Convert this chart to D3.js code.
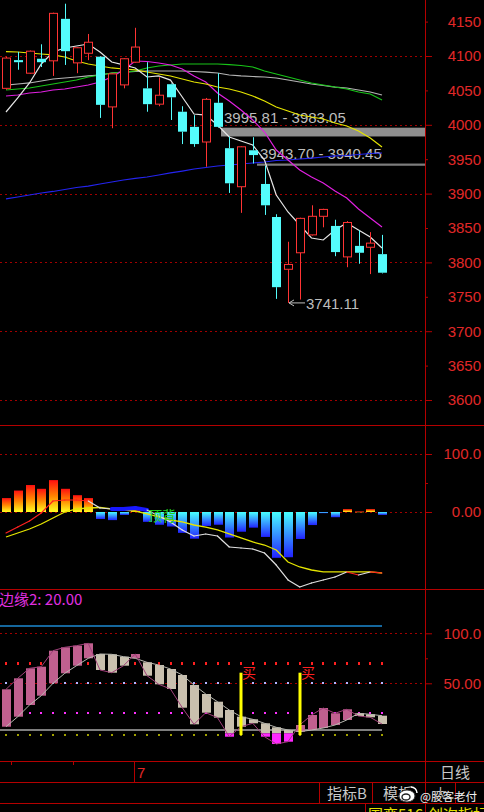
<!DOCTYPE html>
<html><head><meta charset="utf-8">
<script src="https://cdn.jsdelivr.net/npm/d3@7"></script>
<style>
html,body{margin:0;padding:0;background:#000;overflow:hidden}
svg{display:block}
</style></head><body>
<svg id="c" width="484" height="812"></svg>
<script>
// ---------- DATA ----------
const openP  = [4053,4094,4075,4096,4093,4154,4090,4104,4099,4026,4058,4091,4053,4030,4059,4019,3997,3975,4032,3966,3910,3963,3914,3866,3790,3814,3840,3867,3853,3808,3824,3822,3812];
const closeP = [4097,4091,4107,4091,4162,4107,4112,4120,4029,4074,4096,4113,4030,4043,4040,3990,3972,4037,3997,3915,3968,3956,3883,3764,3797,3864,3867,3877,3815,3858,3814,3828,3785];
const highP  = [4099,4106,4108,4117,4163,4176,4113,4132,4100,4075,4097,4141,4091,4069,4060,4027,4014,4039,4075,3983.05,3969,3982,3940.45,3870,3830,3865,3883,3878,3862,3860,3847,3844,3840];
const lowP   = [4051,4080,4074,4084,4071,4087,4075,4094,4010,3995,4053,4090,4019,4027,4007,3972,3968,3939,3995.81,3901,3872,3943.70,3869,3747,3741.11,3746,3839,3851,3809,3793,3798,3783,3784];

const ma5   = [4018.6,4039,4060.8,4088.4,4105.8,4111.6,4114.5,4117.4,4105.8,4091.3,4087,4082.6,4069.5,4071,4065,4040.4,4015.7,4014.2,3999.7,3982.3,3976.4,3970.6,3948.8,3898,3873.3,3854.4,3835.5,3832.6,3847.1,3857.3,3847.1,3837,3821];
const ma10  = [4106.5,4105.8,4104.4,4102.9,4101.5,4098.5,4092.7,4088.4,4085.5,4082.6,4081.1,4079.7,4076.7,4073.8,4070.9,4066.6,4062.2,4059.3,4054.9,4052,4047.7,4041.9,4034.6,4025.9,4020.1,4014.2,4011.3,4008.4,4002.6,3998.3,3991,3980.8,3967.7];
const ma20  = [4041.9,4043.3,4046.2,4047.7,4050.6,4052,4054.9,4057.8,4062.2,4069.5,4079.7,4092.7,4092,4089.8,4086.9,4081.1,4070.9,4062.2,4046.2,4034.6,4021.5,4007,3989.5,3963.4,3948.8,3934.3,3924.1,3915.4,3903.8,3893.6,3877.6,3864.5,3851.5];
const ma30  = [4050.6,4052,4053.5,4056.4,4059.3,4062.2,4065.1,4069.5,4072.4,4075.3,4076.7,4078.2,4082.6,4085.5,4086.9,4088.4,4088.4,4088.4,4088.4,4087.6,4086.2,4084,4078.2,4073.8,4069.5,4065.1,4060.8,4057.8,4054.9,4052,4047.7,4044.8,4036];
const ma60  = [4057.8,4059.3,4060.8,4063.7,4066.6,4068,4069.5,4071,4072.4,4075.3,4076.7,4077.5,4078.2,4078.2,4078.2,4078.2,4077.5,4076.7,4075.3,4072.4,4071,4070.2,4069.5,4068,4065.1,4062.2,4059.3,4057.1,4054.9,4053.5,4050.6,4047.7,4043.3];
const ma250 = [3892.2,3895.1,3898,3900.9,3903.1,3906,3908.9,3911,3914,3916.9,3919.8,3922,3924.1,3927,3930,3932.8,3935.8,3937.9,3940.1,3941.6,3943,3944.5,3945.9,3948.1,3948.8,3950.3,3951.7,3953.2,3954.7,3955.4,3956.8,3958.3,3959];
const priceTicks = [3600,3650,3700,3750,3800,3850,3900,3950,4000,4050,4100,4150];

const macdHist = [24,37,46.5,40,55,40,29,24,-12,-14,-5,3,-17,-22,-25,-36,-46,-24,-22,-44,-34,-27,-43,-79,-78,-46.5,-22.5,-2,-9,5,1,5,-5];
const macdDif  = [-36.2,-25.9,-15.5,-1.7,19,20.7,20.7,19,6.9,5.2,5.2,6.9,3.4,-6.9,-17.2,-31,-41.4,-37.9,-41.4,-60.3,-62.1,-63.8,-70.7,-91.4,-117.2,-129.3,-122.4,-117.2,-112.1,-103.4,-108.6,-103.4,-105.2];
const macdDea  = [-43.1,-36.2,-29.3,-20.7,-10.3,0,5.2,6.9,7.8,5.2,3.4,1.7,-3.4,-8.6,-13.8,-17.2,-22.4,-25.9,-31,-37.9,-44.8,-51.7,-56.9,-65.5,-86.2,-94.8,-100,-103.4,-103.4,-103.4,-103.4,-103.4,-105.2];
const difState = ['up','up','up','up','up','up','up','down','down','flat','flat','flat','down','down','down','down','down','down','down','down','down','down','down','down','down','down','down','down','down','up','down','up'];
const macdTicks = [0,50,100];
const macdLabels = {0:'0.00',100:'100.0'};
const macdNote = {idx:12, text:'顶背'};

const kLine = [44,55,65,66.6,82.6,86,87.6,90,63.3,60.6,67.6,79.3,57.6,49,44.3,25.6,9,20.6,15.6,-3.4,6.6,10,-3.4,-10.7,-8.4,8.3,18.3,25.3,20,24,17.3,16,9.3];
const dLine = [6.6,16.6,28.3,37.6,50,60,67.6,75,79.3,79,76.6,75,71,68.3,64.3,58.3,48.3,39.3,31.6,23.3,16.6,14,10,6,3.3,1.6,3.3,5.3,8.3,13.3,20,19,17.6];
const buyIdx = [20,25];
const buyRange = [60.6,-1.7];
const kdTicks = [50,75,100];
const kdLabels = {50:'50.00',100:'100.0'};
const kdLevels = [{v:70,c:'#ff2020'},{v:50,c:'#b4b4ff'},{v:20,c:'#ff30ff'},{v:-2,c:'#a0a000'}];
const kdBlue = 107.3, kdGray = 3.3;
const edgeLabel = '边缘2: 20.00';

// ---------- SETUP ----------
const W=484,H=812,AX=425;
const svg=d3.select('#c');
svg.append('rect').attr('width',W).attr('height',H).attr('fill','#000');
const defs=svg.append('defs');
const gp=defs.append('linearGradient').attr('id','gpos').attr('x1',0).attr('y1',0).attr('x2',0).attr('y2',1);
gp.append('stop').attr('offset','0%').attr('stop-color','#ff1010');
gp.append('stop').attr('offset','50%').attr('stop-color','#ff8400');
gp.append('stop').attr('offset','100%').attr('stop-color','#ffff20');
const gn=defs.append('linearGradient').attr('id','gneg').attr('x1',0).attr('y1',0).attr('x2',0).attr('y2',1);
gn.append('stop').attr('offset','0%').attr('stop-color','#48ffff');
gn.append('stop').attr('offset','100%').attr('stop-color','#2222ff');
defs.append('clipPath').attr('id','cp1').append('rect').attr('x',0).attr('y',0).attr('width',AX).attr('height',425);
defs.append('clipPath').attr('id','cp2').append('rect').attr('x',0).attr('y',426).attr('width',AX).attr('height',163);
defs.append('clipPath').attr('id','cp3').append('rect').attr('x',0).attr('y',590).attr('width',AX).attr('height',171);

const NUMF='"Liberation Sans", Arial, sans-serif';
const CJKF='"Noto Sans CJK SC", "Liberation Sans", sans-serif';
const RED='#e02828', LINE='#b40000', GRID='#a00000';

const x=d3.scaleLinear().domain([0,32]).range([6,382]);
const cx=i=>Math.round(x(i));
const yP=d3.scaleLinear().domain([3600,4100]).range([400,56]);
const yM=d3.scaleLinear().domain([0,100]).range([512,454]);
const yK=d3.scaleLinear().domain([0,100]).range([733.3,633.3]);
const idx=d3.range(openP.length);

function dotted(g,y,x1,x2){
  g.append('line').attr('x1',x1).attr('x2',x2).attr('y1',Math.round(y)+0.5).attr('y2',Math.round(y)+0.5)
   .attr('stroke',GRID).attr('stroke-width',1).attr('stroke-dasharray','2,3');
}

// ---------- PRICE PANEL ----------
const g1=svg.append('g').attr('clip-path','url(#cp1)');
[3600,3700,3800,3900,4000,4100].forEach(v=>dotted(g1,yP(v),0,AX));

const bands=[{a:18,b:19,lo:lowP[18],hi:highP[19],ty:-5},{a:21,b:22,lo:lowP[21],hi:highP[22],ty:-5}];
bands.forEach((bd,k)=>{
  const x0=cx(bd.a)+ (k===0?3:4);
  g1.append('rect').attr('x',x0).attr('y',yP(bd.lo)).attr('width',AX-x0).attr('height',Math.max(2,yP(bd.hi)-yP(bd.lo)))
    .attr('fill',k===0?'#8e8e8e':'#7c7c7c');
  g1.append('text').attr('x',x0+3).attr('y',yP(bd.lo)+bd.ty).attr('fill','#bdbdbd')
    .style('font',`15px ${NUMF}`).text(`${bd.lo.toFixed(2)} - ${bd.hi.toFixed(2)}`);
});

const lineP=d3.line().x((d,i)=>x(i)).y(d=>yP(d));
[[ma60,'#b4b4b4'],[ma30,'#18c418'],[ma250,'#2424f0'],[ma20,'#e020e0'],[ma10,'#e4e400'],[ma5,'#e6e6e6']].forEach(([v,c])=>{
  g1.append('path').attr('d',lineP(v)).attr('fill','none').attr('stroke',c).attr('stroke-width',1.2);
});

idx.forEach(i=>{
  const up=closeP[i]>=openP[i];
  const c=up?'#ff3434':'#54fcfc';
  const X=cx(i);
  const top=yP(Math.max(openP[i],closeP[i])), bot=yP(Math.min(openP[i],closeP[i]));
  g1.append('line').attr('x1',X+0.5).attr('x2',X+0.5).attr('y1',yP(highP[i])).attr('y2',top).attr('stroke',c);
  g1.append('line').attr('x1',X+0.5).attr('x2',X+0.5).attr('y1',bot).attr('y2',yP(lowP[i])).attr('stroke',c);
  if(up){
    g1.append('rect').attr('x',X-3.5).attr('y',top).attr('width',8).attr('height',Math.max(1,bot-top))
      .attr('fill','#000').attr('stroke',c).attr('stroke-width',1);
  } else {
    g1.append('rect').attr('x',X-4).attr('y',top).attr('width',9).attr('height',Math.max(1.5,bot-top)).attr('fill',c);
  }
});

const li=d3.minIndex(lowP);
const ly=yP(lowP[li]);
g1.append('line').attr('x1',cx(li)+1).attr('x2',cx(li)+17).attr('y1',ly).attr('y2',ly).attr('stroke','#bdbdbd');
g1.append('path').attr('d',`M${cx(li)+1},${ly} l5,-3 M${cx(li)+1},${ly} l5,3`).attr('stroke','#bdbdbd').attr('fill','none');
g1.append('text').attr('x',cx(li)+18).attr('y',ly+6).attr('fill','#bdbdbd').style('font',`15px ${NUMF}`).text(lowP[li].toFixed(2));

const axP=svg.append('g').attr('transform',`translate(${AX},0)`)
  .call(d3.axisRight(yP).tickValues(priceTicks).tickSize(7).tickFormat(d3.format('d')));
axP.select('.domain').remove();
axP.selectAll('.tick line').attr('stroke',LINE).attr('x2',d=>d%100===0?7:3);
axP.selectAll('.tick text').attr('x',56).attr('text-anchor','end').attr('fill',RED).style('font',`15px ${NUMF}`);

// ---------- MACD PANEL ----------
const g2=svg.append('g').attr('clip-path','url(#cp2)');
dotted(g2,yM(100),0,AX); dotted(g2,yM(0),0,AX);
idx.forEach(i=>{
  const v=macdHist[i]; const X=cx(i);
  const y0=yM(Math.max(v,0)), y1=yM(Math.min(v,0));
  g2.append('rect').attr('x',X-4).attr('y',y0).attr('width',9).attr('height',Math.max(0.8,y1-y0))
    .attr('fill',v>=0?'url(#gpos)':'url(#gneg)');
});
const lineM=d3.line().x((d,i)=>x(i)).y(d=>yM(d));
g2.append('path').attr('d',lineM(macdDea)).attr('fill','none').attr('stroke','#e6e600').attr('stroke-width',1.3);
const stCol={up:'#ff2020',down:'#e0e0e0',flat:'#1818ff'};
difState.forEach((s,i)=>{
  g2.append('line').attr('x1',x(i)).attr('y1',yM(macdDif[i])).attr('x2',x(i+1)).attr('y2',yM(macdDif[i+1]))
    .attr('stroke',stCol[s]).attr('stroke-width',s==='flat'?4:1.2).attr('stroke-linecap','round');
});
g2.append('text').attr('x',cx(macdNote.idx)+1).attr('y',yM(macdDif[macdNote.idx])+11).attr('fill','#20d020')
  .style('font',`14px ${CJKF}`).text(macdNote.text);

const axM=svg.append('g').attr('transform',`translate(${AX},0)`)
  .call(d3.axisRight(yM).tickValues(macdTicks).tickSize(7).tickFormat(d=>macdLabels[d]||''));
axM.select('.domain').remove();
axM.selectAll('.tick line').attr('stroke',LINE).attr('x2',d=>d%100===0?7:3);
axM.selectAll('.tick text').attr('x',56).attr('text-anchor','end').attr('fill',RED).style('font',`15px ${NUMF}`);

// ---------- KD PANEL ----------
const g3=svg.append('g').attr('clip-path','url(#cp3)');
dotted(g3,yK(100),0,AX); dotted(g3,yK(50),0,AX);
kdLevels.forEach(l=>{
  idx.forEach(i=>{
    g3.append('rect').attr('x',cx(i)-1).attr('y',Math.round(yK(l.v))-1).attr('width',2).attr('height',l.v===70?3:2).attr('fill',l.c);
  });
});
g3.append('line').attr('x1',0).attr('x2',x(32)).attr('y1',yK(kdBlue)).attr('y2',yK(kdBlue)).attr('stroke','#1c8ad2').attr('stroke-width',1.6);
g3.append('line').attr('x1',0).attr('x2',x(32)).attr('y1',yK(kdGray)).attr('y2',yK(kdGray)).attr('stroke','#a8a8a8').attr('stroke-width',1.6);
idx.forEach(i=>{
  const a=Math.max(kLine[i],dLine[i]), b=Math.min(kLine[i],dLine[i]);
  const col=kLine[i]>=dLine[i]?'#c0608f':'#c9c0ae';
  const X=cx(i);
  const mainLo=Math.max(b,0);
  if(a>0) g3.append('rect').attr('x',X-4).attr('y',yK(a)).attr('width',9).attr('height',Math.max(1.5,yK(mainLo)-yK(a))).attr('fill',col);
  if(b<0) g3.append('rect').attr('x',X-4).attr('y',yK(Math.min(0,a))).attr('width',9).attr('height',yK(b)-yK(Math.min(0,a))).attr('fill','#ff28ff');
});
const lineK=d3.line().x((d,i)=>x(i)).y(d=>yK(d));
g3.append('path').attr('d',lineK(dLine)).attr('fill','none').attr('stroke','#b8b8b0').attr('stroke-width',1);
g3.append('path').attr('d',lineK(kLine)).attr('fill','none').attr('stroke','#a0407a').attr('stroke-width',1);
buyIdx.forEach(i=>{
  g3.append('rect').attr('x',cx(i)-1.5).attr('y',yK(buyRange[0])).attr('width',3).attr('height',yK(buyRange[1])-yK(buyRange[0])).attr('fill','#ffff00');
  g3.append('text').attr('x',cx(i)+1).attr('y',yK(buyRange[0])+5).attr('fill','#ff2020').style('font',`14px ${CJKF}`).text('买');
});
svg.append('text').attr('x',-1).attr('y',605).attr('fill','#e030e0').style('font',`15px ${CJKF}`).text(edgeLabel);

const axK=svg.append('g').attr('transform',`translate(${AX},0)`)
  .call(d3.axisRight(yK).tickValues(kdTicks).tickSize(7).tickFormat(d=>kdLabels[d]||''));
axK.select('.domain').remove();
axK.selectAll('.tick line').attr('stroke',LINE).attr('x2',d=>d%50===0?7:3);
axK.selectAll('.tick text').attr('x',56).attr('text-anchor','end').attr('fill',RED).style('font',`15px ${NUMF}`);

// ---------- FRAME ----------
const hl=(y,x1=0,x2=W)=>svg.append('line').attr('x1',x1).attr('x2',x2).attr('y1',y).attr('y2',y).attr('stroke',LINE);
const vl=(xx,y1,y2)=>svg.append('line').attr('x1',xx).attr('x2',xx).attr('y1',y1).attr('y2',y2).attr('stroke',LINE);
hl(425.5); hl(589.5); hl(761.5); hl(782.5); hl(803.5);
vl(AX+0.5,0,H);
vl(134.5,762,782); vl(319.5,783,803); vl(372.5,783,803); vl(455.5,783,803); vl(365.5,804,H);
vl(11.5,762,765); vl(73.5,762,765);
svg.append('text').attr('x',137).attr('y',778).attr('fill',RED).style('font',`15px ${NUMF}`).text('7');
svg.append('text').attr('x',440).attr('y',778).attr('fill','#c8c8c8').style('font',`15px ${CJKF}`).text('日线');
svg.append('text').attr('x',327).attr('y',799).attr('fill','#c8c8c8').style('font',`15px ${CJKF}`).text('指标B');
svg.append('text').attr('x',383).attr('y',799).attr('fill','#c8c8c8').style('font',`15px ${CJKF}`).text('模板');
svg.append('text').attr('x',434).attr('y',798).attr('fill','#c8c8c8').style('font',`13px ${CJKF}`).text('大');
svg.append('text').attr('x',368).attr('y',820).attr('fill','#e0e000').style('font',`15px ${CJKF}`).text('国变516');
svg.append('text').attr('x',428).attr('y',820).attr('fill','#e0e000').style('font',`15px ${CJKF}`).text('创次指标');
const wm=svg.append('g');
wm.append('ellipse').attr('cx',407).attr('cy',796).attr('rx',8).attr('ry',6).attr('fill','#fff').attr('stroke','#333');
wm.append('ellipse').attr('cx',406).attr('cy',797).attr('rx',4).attr('ry',3).attr('fill','none').attr('stroke','#222').attr('stroke-width',1.4);
wm.append('path').attr('d','M411,787 a6,6 0 0 1 6,6').attr('stroke','#fff').attr('fill','none').attr('stroke-width',1.5);
wm.append('text').attr('x',420).attr('y',801).attr('fill','#f0f0f0').attr('stroke','#111').attr('stroke-width',0.6)
  .attr('paint-order','stroke').style('font',`11.5px ${CJKF}`).text('@股客老付');
</script>
</body></html>
